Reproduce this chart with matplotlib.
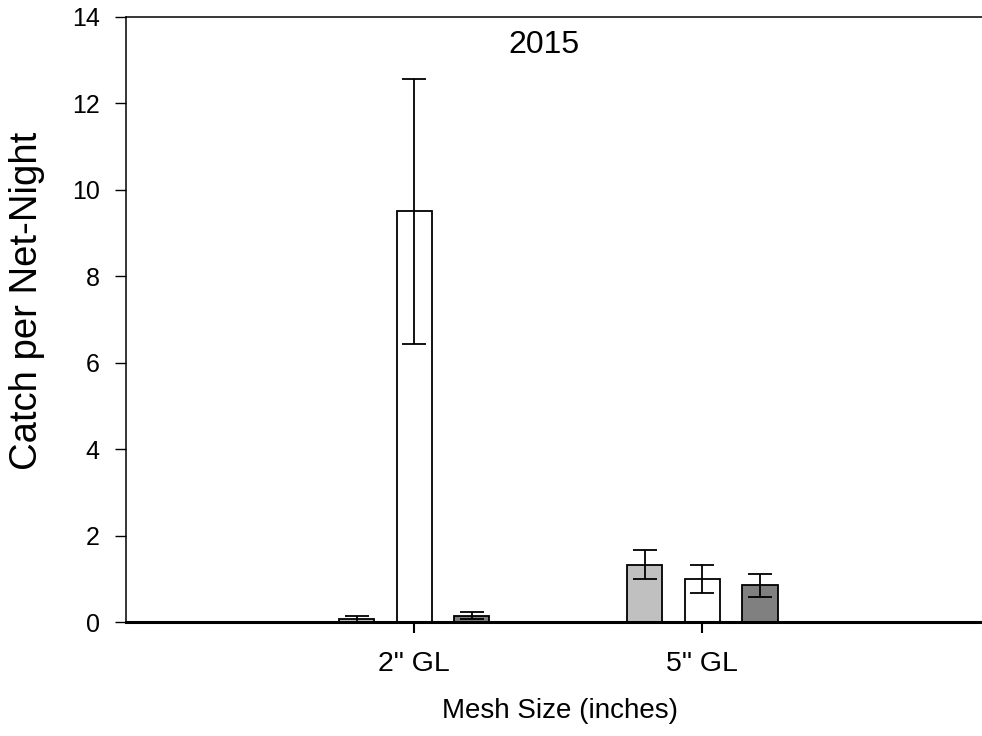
import matplotlib
matplotlib.use("Agg")
import matplotlib.pyplot as plt
import numpy as np

plt.rcParams['font.family'] = ['Liberation Sans', 'DejaVu Sans']

# Mesh categories and per-series catch means with error bars
categories = ['2" GL', '5" GL']
light_means = [0.08, 1.33]
light_errs = [0.07, 0.34]
white_means = [9.50, 1.00]
white_errs = [3.06, 0.33]
dark_means = [0.14, 0.85]
dark_errs = [0.08, 0.26]

y_ticks = [0, 2, 4, 6, 8, 10, 12, 14]

fig = plt.figure(figsize=(9.82, 7.36), dpi=100)
ax = fig.add_axes([126 / 982, 1 - 622 / 736, 1 - 126 / 982, (622 - 17) / 736])

x = np.arange(1, len(categories) + 1)
offset = 0.2
width = 0.122
series = [
    (light_means, light_errs, '#c0c0c0', -offset),
    (white_means, white_errs, '#ffffff', 0.0),
    (dark_means, dark_errs, '#808080', offset),
]
for means, errs, color, dx in series:
    ax.bar(x + dx, means, width=width, color=color, edgecolor='black',
           linewidth=1.3, zorder=2)
    ax.errorbar(x + dx, means, yerr=errs, fmt='none', ecolor='black',
                elinewidth=1.3, capsize=8.5, capthick=1.3, zorder=3)

ax.set_xlim(0, 2.97)
ax.set_ylim(0, 14)
ax.set_yticks(y_ticks)
ax.set_xticks(x)
ax.set_xticklabels(categories)

ax.spines['right'].set_visible(False)
ax.spines['top'].set_linewidth(1.1)
ax.spines['left'].set_linewidth(1.1)
ax.spines['bottom'].set_linewidth(2.2)

ax.tick_params(axis='y', direction='out', length=8, width=1.0, pad=11,
               labelsize=18)
ax.tick_params(axis='x', direction='out', length=8, width=1.5, pad=13,
               labelsize=20.5)

ax.text(543.5 / 982, 1 - 45 / 736, '2015', transform=fig.transFigure,
        ha='center', va='center', fontsize=23)
fig.text(560 / 982, 1 - 711 / 736, 'Mesh Size (inches)', ha='center',
         va='center', fontsize=20)
fig.text(27 / 982, 1 - 301 / 736, 'Catch per Net-Night', rotation=90,
         ha='center', va='center', fontsize=27.5)

fig.savefig('out.png', dpi=100)
